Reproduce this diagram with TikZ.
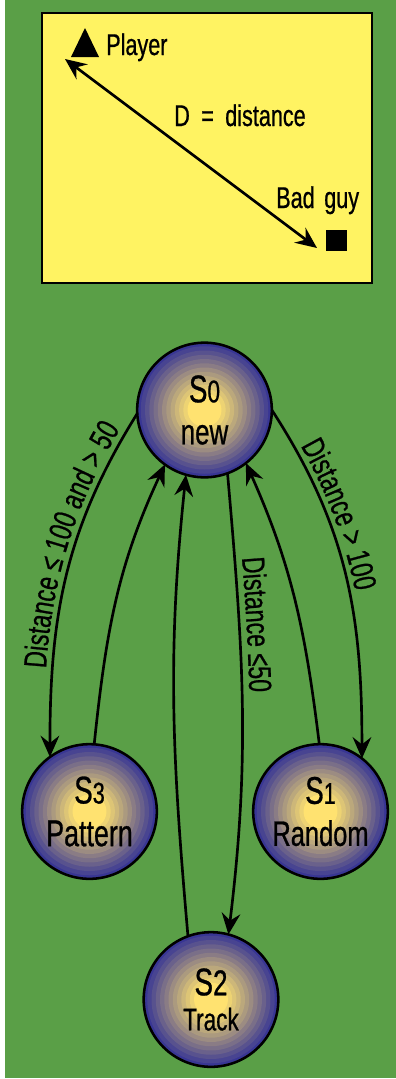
\documentclass[tikz,border=0pt]{standalone}
\usepackage{fontspec}
\setmainfont[FakeStretch=0.72,FakeBold=0.7]{Liberation Sans}
\usetikzlibrary{arrows.meta,decorations.text}
\definecolor{bggreen}{RGB}{90,159,71}
\definecolor{boxyellow}{RGB}{255,243,98}
\definecolor{ringblue}{RGB}{56,54,148}
\definecolor{ringyel}{RGB}{255,226,112}
\newcommand\lblfont{\fontsize{24}{26}\selectfont}
\newcommand\boxfont{\fontsize{22.5}{26}\selectfont}
\newcommand\dgs[2]{{\fontsize{#1}{#1}\selectfont #2}}
\tikzset{
  mytip/.tip={Stealth[length=16pt,width=14pt,inset=5.5pt]},
  state/.style={circle, draw=black, line width=1.9pt, minimum size=101pt,
    inner sep=0pt, outer sep=0pt, align=center,
    path picture={
      \foreach \k in {0,...,12}{
        \pgfmathtruncatemacro\pct{\k*100/12}
        \pgfmathsetmacro\rad{51-3.19*\k}
        \fill[ringyel!\pct!ringblue] (path picture bounding box.center) circle[radius=\rad pt];
      }
    }},
  conn/.style={line width=2pt, -mytip},
  boxtext/.style={anchor=base west, inner sep=0pt, font=\boxfont},
}
\begin{document}
\begin{tikzpicture}[x=0.75pt,y=0.75pt]
\useasboundingbox (0,0) rectangle (396,-1079);
\fill[bggreen] (5,0) rectangle (396,-1078);
% top box
\draw[fill=boxyellow, line width=1.7pt] (42,-13) rectangle (372,-283);
\fill (71,-57) -- (99,-57) -- (85,-28) -- cycle;
\node[fill=black, minimum size=15.75pt, inner sep=0pt] (bad) at (336.5,-240.5) {};
\node[boxtext] (player) at (106,-55) {Player};
\node[boxtext] (dist) at (174,-126) {D\hspace{0.38em}=\hspace{0.38em}distance};
\node[boxtext] (badlbl) at (276,-208) {Bad\hspace{0.12em} guy};
\coordinate (pA) at (65,-59);
\coordinate (pB) at (317,-248);
\draw[line width=2pt, mytip-mytip] (pA) -- (pB);
% states
\node[state, font={\fontsize{29}{31.5}\selectfont}] (S0) at (204.5,-410)
  {S\dgs{23.5}{0}\\{\fontsize{27}{31.5}\selectfont new}};
\node[state, font={\fontsize{29}{32}\selectfont}] (S3) at (89.5,-811.5)
  {S\dgs{22.5}{3}\\{\fontsize{28}{32}\selectfont Pattern}};
\node[state, font={\fontsize{29}{31.5}\selectfont}] (S1) at (320.5,-811.5)
  {S\dgs{22.5}{1}\\{\fontsize{26.5}{31.5}\selectfont Random}};
\node[state, font={\fontsize{29}{26.25}\selectfont}] (S2) at (211,-999.5)
  {S\dgs{27}{2}\\{\fontsize{23.5}{26.25}\selectfont Track}};
% connectors
\draw[conn] (S0.183) to[out=238, in=90] (S3.126);
\draw[conn] (S3.86) to[out=84, in=245] (S0.234);
\draw[conn] (S2.110) to[out=95, in=264] (S0.254);
\draw[conn] (S0.290) to[out=275, in=83] (S2.75);
\draw[conn] (S1.91) to[out=97, in=294] (S0.308);
\draw[conn] (S0.0) to[out=-57, in=90] (S1.52);
% labels along connectors
\path[decorate, decoration={text along path, text={|\lblfont|Distance ≤ 100 and > 50},
  text align={left indent=66pt}, raise=5pt}] (S3.126) to[out=90, in=238] (S0.183);
\path[decorate, decoration={text along path, text={|\lblfont|Distance ≤50},
  text align={left indent=64pt}, raise=5.5pt}] (S0.290) to[out=275, in=83] (S2.75);
\path[decorate, decoration={text along path, text={|\lblfont|Distance > 100},
  text align={left indent=34pt}, raise=4.5pt}] (S0.0) to[out=-57, in=90] (S1.52);
\end{tikzpicture}
\end{document}
